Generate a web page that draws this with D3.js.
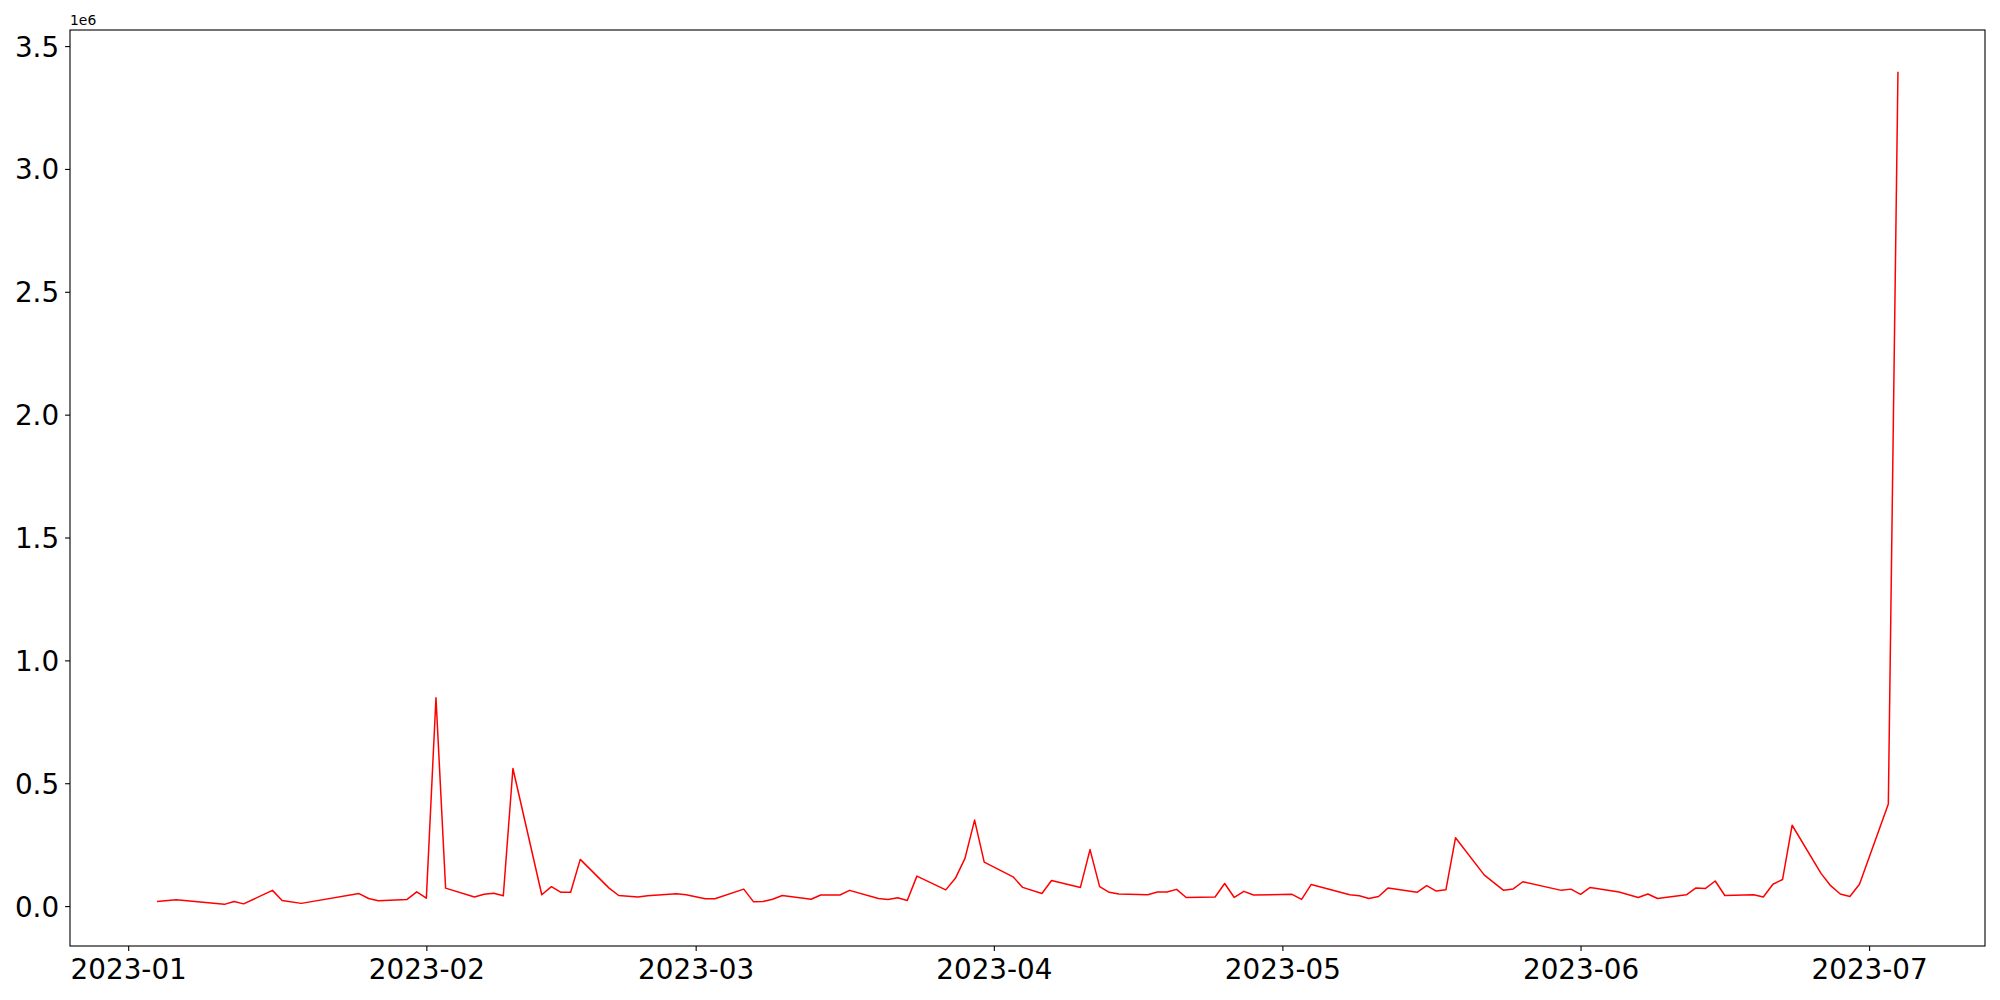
<!DOCTYPE html>
<html>
<head>
<meta charset="utf-8">
<script src="https://cdn.jsdelivr.net/npm/d3@7"></script>
<style>
    body { margin: 0; background: #fff; }
    svg text { font-family: "DejaVu Sans", sans-serif; fill: #000; }
</style>
</head>
<body>
<div id="chart"></div>
<script>
// trading days and values (values in raw units)
const dates = [
    "2023-01-04", "2023-01-06", "2023-01-11", "2023-01-12", "2023-01-13", "2023-01-16", "2023-01-17", "2023-01-19",
    "2023-01-25", "2023-01-26", "2023-01-27", "2023-01-30", "2023-01-31", "2023-02-01", "2023-02-02", "2023-02-03",
    "2023-02-06", "2023-02-07", "2023-02-08", "2023-02-09", "2023-02-10", "2023-02-13", "2023-02-14", "2023-02-15",
    "2023-02-16", "2023-02-17", "2023-02-20", "2023-02-21", "2023-02-23", "2023-02-24", "2023-02-27", "2023-02-28",
    "2023-03-02", "2023-03-03", "2023-03-06", "2023-03-07", "2023-03-08", "2023-03-09", "2023-03-10", "2023-03-13",
    "2023-03-14", "2023-03-16", "2023-03-17", "2023-03-20", "2023-03-21", "2023-03-22", "2023-03-23", "2023-03-24",
    "2023-03-27", "2023-03-28", "2023-03-29", "2023-03-30", "2023-03-31", "2023-04-03", "2023-04-04", "2023-04-06",
    "2023-04-07", "2023-04-10", "2023-04-11", "2023-04-12", "2023-04-13", "2023-04-14", "2023-04-17", "2023-04-18",
    "2023-04-19", "2023-04-20", "2023-04-21", "2023-04-24", "2023-04-25", "2023-04-26", "2023-04-27", "2023-04-28",
    "2023-05-02", "2023-05-03", "2023-05-04", "2023-05-08", "2023-05-09", "2023-05-10", "2023-05-11", "2023-05-12",
    "2023-05-15", "2023-05-16", "2023-05-17", "2023-05-18", "2023-05-19", "2023-05-22", "2023-05-24", "2023-05-25",
    "2023-05-26", "2023-05-30", "2023-05-31", "2023-06-01", "2023-06-02", "2023-06-05", "2023-06-07", "2023-06-08",
    "2023-06-09", "2023-06-12", "2023-06-13", "2023-06-14", "2023-06-15", "2023-06-16", "2023-06-19", "2023-06-20",
    "2023-06-21", "2023-06-22", "2023-06-23", "2023-06-26", "2023-06-27", "2023-06-28", "2023-06-29", "2023-06-30",
    "2023-07-03", "2023-07-04"
];

const values = [
    19000, 26000, 7000, 19000, 9000, 64000, 23000, 11000,
    51000, 31000, 22000, 27000, 58000, 32000, 848000, 73000,
    37000, 48000, 52000, 42000, 560000, 46000, 79000, 56000,
    56000, 190000, 73000, 43000, 37000, 42000, 50000, 46000,
    30000, 30000, 69000, 18000, 19000, 28000, 43000, 28000,
    45000, 45000, 64000, 31000, 27000, 34000, 23000, 122000,
    66000, 113000, 194000, 350000, 179000, 119000, 76000, 51000,
    104000, 76000, 230000, 79000, 56000, 49000, 46000, 57000,
    57000, 68000, 35000, 37000, 92000, 35000, 60000, 45000,
    48000, 27000, 88000, 46000, 42000, 31000, 39000, 74000,
    56000, 83000, 61000, 66000, 278000, 126000, 64000, 70000,
    99000, 64000, 69000, 48000, 76000, 57000, 35000, 49000,
    31000, 46000, 74000, 72000, 102000, 43000, 46000, 37000,
    89000, 108000, 329000, 133000, 83000, 49000, 39000, 89000,
    415000, 3396000
];

const yTicks = [0, 0.5e6, 1.0e6, 1.5e6, 2.0e6, 2.5e6, 3.0e6, 3.5e6];
const xTickDates = ["2023-01-01", "2023-02-01", "2023-03-01", "2023-04-01", "2023-05-01", "2023-06-01", "2023-07-01"];

const W = 2000, H = 1000;
const margin = {top: 30, right: 15, bottom: 54, left: 70};
const width = W - margin.left - margin.right;
const height = H - margin.top - margin.bottom;

const parse = d3.utcParse("%Y-%m-%d");
const data = dates.map((d, i) => ({date: parse(d), value: values[i]}));

// matplotlib style 5% padding on both axes
const xExt = d3.extent(data, d => d.date);
const xPad = (xExt[1] - xExt[0]) * 0.05;
const yExt = d3.extent(data, d => d.value);
const yPad = (yExt[1] - yExt[0]) * 0.05;

const x = d3.scaleUtc()
    .domain([new Date(+xExt[0] - xPad), new Date(+xExt[1] + xPad)])
    .range([0, width]);

const y = d3.scaleLinear()
    .domain([yExt[0] - yPad, yExt[1] + yPad])
    .range([height, 0]);

const svg = d3.select("#chart")
    .append("svg")
    .attr("width", W)
    .attr("height", H);

const g = svg.append("g")
    .attr("transform", `translate(${margin.left},${margin.top})`);

const xAxis = g.append("g")
    .attr("transform", `translate(0,${height})`)
    .call(d3.axisBottom(x)
        .tickValues(xTickDates.map(parse))
        .tickFormat(d3.utcFormat("%Y-%m"))
        .tickSize(4.9)
        .tickPadding(4.9));

const yAxis = g.append("g")
    .call(d3.axisLeft(y)
        .tickValues(yTicks)
        .tickFormat(d => (d / 1e6).toFixed(1))
        .tickSize(4.9)
        .tickPadding(6));

[xAxis, yAxis].forEach(a => {
    a.select(".domain").remove();
    a.selectAll(".tick line").attr("stroke", "#000").attr("stroke-width", 1.1);
    a.selectAll(".tick text")
        .style("font-size", "27.8px")
        .style("font-family", "'DejaVu Sans', sans-serif");
});
xAxis.selectAll(".tick text").attr("dy", "0.82em");
yAxis.selectAll(".tick text").attr("dy", "0.36em");

// the series
g.append("path")
    .datum(data)
    .attr("fill", "none")
    .attr("stroke", "red")
    .attr("stroke-width", 1.5)
    .attr("stroke-linejoin", "round")
    .attr("d", d3.line()
        .x(d => x(d.date))
        .y(d => y(d.value)));

// frame
g.append("rect")
    .attr("width", width)
    .attr("height", height)
    .attr("fill", "none")
    .attr("stroke", "#000")
    .attr("stroke-width", 1.1);

// offset text
g.append("text")
    .attr("x", 0)
    .attr("y", -5)
    .style("font-size", "13.9px")
    .text("1e6");
</script>
</body>
</html>
